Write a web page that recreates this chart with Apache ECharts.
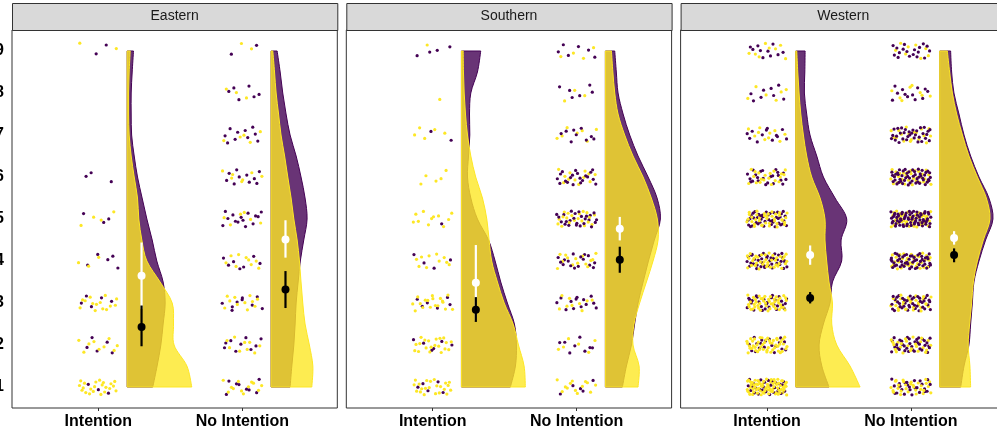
<!DOCTYPE html>
<html>
<head>
<meta charset="utf-8">
<script src="https://cdn.jsdelivr.net/npm/echarts@6/dist/echarts.min.js"></script>
<style>html,body{margin:0;padding:0;background:#fff}#chart{width:997px;height:434px}</style>
</head>
<body>
<div id="chart"></div>
<script>
// ---------------- DATA ----------------
const regions = ['Eastern', 'Southern', 'Western'];
const conditions = ['Intention', 'No Intention'];
const responseLevels = [1, 2, 3, 4, 5, 6, 7, 8, 9];
const densityLevels = [1, 1.5, 2, 2.5, 3, 3.5, 4, 4.5, 5, 5.5, 6, 6.5, 7, 7.5, 8, 8.5, 9];

// number of responses per level (1..9), purple group / yellow group
const eastIntPurpleCounts = [3, 5, 5, 5, 3, 3, 0, 0, 2];
const eastIntYellowCounts = [22, 9, 14, 3, 4, 0, 0, 0, 2];
const eastNoPurpleCounts = [8, 9, 9, 7, 14, 10, 10, 6, 2];
const eastNoYellowCounts = [12, 9, 11, 9, 6, 7, 5, 3, 2];
const southIntPurpleCounts = [5, 6, 6, 4, 1, 0, 2, 0, 4];
const southIntYellowCounts = [22, 20, 18, 10, 11, 5, 5, 1, 1];
const southNoPurpleCounts = [5, 8, 13, 16, 25, 20, 9, 6, 6];
const southNoYellowCounts = [13, 6, 9, 14, 20, 12, 7, 3, 4];
const westIntPurpleCounts = [28, 19, 28, 38, 42, 23, 12, 8, 10];
const westIntYellowCounts = [75, 48, 45, 38, 38, 20, 10, 6, 8];
const westNoPurpleCounts = [25, 35, 40, 50, 65, 50, 32, 12, 18];
const westNoYellowCounts = [30, 25, 30, 32, 42, 32, 18, 8, 8];

// half-violin density widths at densityLevels (x-axis units)
const eastIntPurpleDens = [0.178, 0.208, 0.234, 0.25, 0.264, 0.25, 0.206, 0.174, 0.137, 0.104, 0.072, 0.049, 0.031, 0.028, 0.028, 0.035, 0.044];
const eastIntYellowDens = [0.449, 0.415, 0.326, 0.322, 0.313, 0.229, 0.137, 0.102, 0.081, 0.072, 0.049, 0.028, 0.014, 0.010, 0.010, 0.014, 0.021];
const eastNoPurpleDens = [0.132, 0.144, 0.158, 0.167, 0.174, 0.188, 0.203, 0.227, 0.25, 0.236, 0.208, 0.174, 0.132, 0.104, 0.081, 0.063, 0.042];
const eastNoYellowDens = [0.283, 0.29, 0.266, 0.236, 0.22, 0.208, 0.197, 0.181, 0.158, 0.139, 0.116, 0.094, 0.069, 0.052, 0.035, 0.024, 0.012];
const southIntPurpleDens = [0.34, 0.375, 0.382, 0.368, 0.319, 0.273, 0.234, 0.188, 0.111, 0.065, 0.042, 0.049, 0.058, 0.056, 0.065, 0.111, 0.134];
const southIntYellowDens = [0.444, 0.435, 0.396, 0.359, 0.297, 0.25, 0.21, 0.192, 0.176, 0.146, 0.099, 0.065, 0.042, 0.028, 0.019, 0.014, 0.012];
const southNoPurpleDens = [0.118, 0.146, 0.181, 0.203, 0.227, 0.262, 0.299, 0.34, 0.382, 0.359, 0.297, 0.227, 0.169, 0.123, 0.088, 0.076, 0.065];
const southNoYellowDens = [0.227, 0.234, 0.192, 0.199, 0.238, 0.285, 0.331, 0.366, 0.361, 0.319, 0.262, 0.192, 0.134, 0.088, 0.065, 0.052, 0.042];
const westIntPurpleDens = [0.231, 0.181, 0.162, 0.192, 0.238, 0.255, 0.319, 0.315, 0.354, 0.273, 0.192, 0.146, 0.099, 0.076, 0.06, 0.063, 0.065];
const westIntYellowDens = [0.447, 0.377, 0.285, 0.25, 0.255, 0.231, 0.215, 0.203, 0.203, 0.169, 0.111, 0.076, 0.053, 0.035, 0.023, 0.014, 0.007];
const westNoPurpleDens = [0.146, 0.169, 0.203, 0.215, 0.227, 0.238, 0.273, 0.319, 0.37, 0.342, 0.273, 0.215, 0.169, 0.134, 0.099, 0.083, 0.076];
const westNoYellowDens = [0.215, 0.21, 0.198, 0.208, 0.222, 0.234, 0.262, 0.303, 0.349, 0.324, 0.262, 0.203, 0.158, 0.118, 0.088, 0.069, 0.053];

// mean with interval: [mean, lower, upper]
const eastIntWhite = [3.65, 2.86, 4.44];
const eastIntBlack = [2.43, 1.97, 2.94];
const eastNoWhite = [4.51, 4.08, 4.97];
const eastNoBlack = [3.32, 2.88, 3.76];
const southIntWhite = [3.48, 2.58, 4.38];
const southIntBlack = [2.84, 2.55, 3.14];
const southNoWhite = [4.77, 4.49, 5.05];
const southNoBlack = [4.03, 3.72, 4.34];
const westIntWhite = [4.14, 3.91, 4.37];
const westIntBlack = [3.12, 2.99, 3.26];
const westNoWhite = [4.55, 4.39, 4.71];
const westNoBlack = [4.14, 3.97, 4.30];

// ---------------- BUILD ----------------
const panels = [
  { name: regions[0],
    counts: [[eastIntPurpleCounts, eastIntYellowCounts], [eastNoPurpleCounts, eastNoYellowCounts]],
    dens: [[eastIntPurpleDens, eastIntYellowDens], [eastNoPurpleDens, eastNoYellowDens]],
    summ: [[eastIntWhite, eastIntBlack], [eastNoWhite, eastNoBlack]] },
  { name: regions[1],
    counts: [[southIntPurpleCounts, southIntYellowCounts], [southNoPurpleCounts, southNoYellowCounts]],
    dens: [[southIntPurpleDens, southIntYellowDens], [southNoPurpleDens, southNoYellowDens]],
    summ: [[southIntWhite, southIntBlack], [southNoWhite, southNoBlack]] },
  { name: regions[2],
    counts: [[westIntPurpleCounts, westIntYellowCounts], [westNoPurpleCounts, westNoYellowCounts]],
    dens: [[westIntPurpleDens, westIntYellowDens], [westNoPurpleDens, westNoYellowDens]],
    summ: [[westIntWhite, westIntBlack], [westNoWhite, westNoBlack]] }
];

const PURPLE = '#440154', YELLOW = '#FDE725';
const FONT = '"Liberation Sans", Arial, Helvetica, sans-serif';
const gridLefts = [12, 346.3, 680.6];
const gridW = 325.3, gridTop = 30, gridH = 378;
const X_MIN = 0.4, X_MAX = 2.66;

// low-discrepancy (Halton 2/3) jitter offsets, for visual spread only
function halton(i, b) { let f = 1, r = 0; while (i > 0) { f /= b; r += f * (i % b); i = Math.floor(i / b); } return r; }
function jitter(n) { return [halton(n, 2) * 2 - 1, halton(n, 3) * 2 - 1]; }

function violinPath(api, cat, dens) {
  const base = cat + 0.2;
  const pts = densityLevels.map((lv, i) => api.coord([base + dens[i], lv]));
  const b0 = api.coord([base, densityLevels[0]]);
  const b1 = api.coord([base, densityLevels[densityLevels.length - 1]]);
  let d = 'M' + b0[0] + ',' + b0[1] + ' L' + pts[0][0] + ',' + pts[0][1];
  for (let i = 0; i < pts.length - 1; i++) {
    const p0 = pts[Math.max(i - 1, 0)], p1 = pts[i], p2 = pts[i + 1], p3 = pts[Math.min(i + 2, pts.length - 1)];
    const c1 = [p1[0] + (p2[0] - p0[0]) / 6, p1[1] + (p2[1] - p0[1]) / 6];
    const c2 = [p2[0] - (p3[0] - p1[0]) / 6, p2[1] - (p3[1] - p1[1]) / 6];
    d += ' C' + c1[0] + ',' + c1[1] + ' ' + c2[0] + ',' + c2[1] + ' ' + p2[0] + ',' + p2[1];
  }
  d += ' L' + b1[0] + ',' + b1[1] + ' Z';
  return d;
}

const grid = [], xAxis = [], yAxis = [], series = [], graphic = [];

panels.forEach((p, gi) => {
  grid.push({ left: gridLefts[gi], top: gridTop, width: gridW, height: gridH,
    show: true, borderColor: '#333333', borderWidth: 1, backgroundColor: '#ffffff',
    containLabel: false, outerBoundsMode: 'none' });
  xAxis.push({ type: 'value', gridIndex: gi, min: X_MIN, max: X_MAX,
    axisLine: { show: false }, splitLine: { show: false },
    axisTick: { show: true, customValues: [1, 2], length: 3, lineStyle: { color: '#333333', width: 1 } },
    axisLabel: { show: true, customValues: [1, 2], margin: 6,
      formatter: v => (Math.abs(v - 1) < 1e-6 ? conditions[0] : (Math.abs(v - 2) < 1e-6 ? conditions[1] : '')),
      color: '#000', fontWeight: 'bold', fontSize: 16, fontFamily: FONT } });
  yAxis.push({ type: 'value', gridIndex: gi, min: 0.5, max: 9.5, interval: 0.5,
    axisLine: { show: false }, splitLine: { show: false }, axisTick: { show: false },
    axisLabel: { show: gi === 0, margin: 8, showMinLabel: true, showMaxLabel: true,
      formatter: v => (Math.abs(v - Math.round(v)) < 1e-6 && responseLevels.includes(Math.round(v)) ? String(Math.round(v)) : ''),
      color: '#000', fontWeight: 'bold', fontSize: 16, fontFamily: FONT } });

  // strip header
  graphic.push({ type: 'rect', left: gridLefts[gi], top: 3, z: 10,
    shape: { x: 0, y: 0, width: gridW, height: 27 },
    style: { fill: '#D9D9D9', stroke: '#333333', lineWidth: 1 } });
  graphic.push({ type: 'text', x: gridLefts[gi] + gridW / 2, y: 16.5, z: 11,
    style: { text: p.name, fill: '#1A1A1A', font: '14px ' + FONT, textAlign: 'center', textVerticalAlign: 'middle' } });

  // jittered raw points
  const pts = [];
  [0, 1].forEach(ci => {
    const cat = ci + 1;
    const purple = [], yellow = [];
    let n = 1 + ci * 211 + gi * 577;
    responseLevels.forEach((lv, li) => {
      for (let k = 0; k < p.counts[ci][0][li]; k++) { const j = jitter(n++); purple.push([cat + j[0] * 0.14, lv + j[1] * 0.19]); }
      for (let k = 0; k < p.counts[ci][1][li]; k++) { const j = jitter(n++); yellow.push([cat + j[0] * 0.14, lv + j[1] * 0.19]); }
    });
    const m = Math.max(purple.length, yellow.length);
    for (let i = 0; i < m; i++) {
      if (i < yellow.length) pts.push({ value: yellow[i], itemStyle: { color: YELLOW } });
      if (i < purple.length) pts.push({ value: purple[i], itemStyle: { color: PURPLE } });
    }
  });
  series.push({ type: 'scatter', xAxisIndex: gi, yAxisIndex: gi, data: pts, symbolSize: 3.2,
    itemStyle: { opacity: 1 }, silent: true, animation: false, z: 2 });

  // half violins: purple first, yellow on top
  [0, 1].forEach(grp => {
    series.push({ type: 'custom', xAxisIndex: gi, yAxisIndex: gi, animation: false, silent: true, z: 3 + grp,
      data: [[1, 5], [2, 5]],
      renderItem: (params, api) => {
        const cat = api.value(0);
        const dens = p.dens[cat - 1][grp];
        return { type: 'path', shape: { pathData: violinPath(api, cat, dens) },
          style: grp === 0
            ? { fill: 'rgba(68,1,84,0.8)', stroke: PURPLE, lineWidth: 1 }
            : { fill: 'rgba(253,231,37,0.8)', stroke: YELLOW, lineWidth: 1 } };
      } });
  });

  // mean + interval point ranges
  const prData = [];
  [0, 1].forEach(ci => {
    prData.push({ value: [ci + 1.3, p.summ[ci][0][0], p.summ[ci][0][1], p.summ[ci][0][2]], col: '#FFFFFF' });
  });
  [0, 1].forEach(ci => {
    prData.push({ value: [ci + 1.3, p.summ[ci][1][0], p.summ[ci][1][1], p.summ[ci][1][2]], col: '#000000' });
  });
  series.push({ type: 'custom', xAxisIndex: gi, yAxisIndex: gi, animation: false, silent: true, z: 6,
    data: prData,
    renderItem: (params, api) => {
      const col = prData[params.dataIndex].col;
      const c = api.coord([api.value(0), api.value(1)]);
      const lo = api.coord([api.value(0), api.value(2)]);
      const hi = api.coord([api.value(0), api.value(3)]);
      return { type: 'group', children: [
        { type: 'line', shape: { x1: lo[0], y1: lo[1], x2: hi[0], y2: hi[1] }, style: { stroke: col, lineWidth: 2.2 } },
        { type: 'circle', shape: { cx: c[0], cy: c[1], r: 4 }, style: { fill: col } }
      ] };
    } });
});

const chart = echarts.init(document.getElementById('chart'), null, { renderer: 'canvas' });
chart.setOption({ animation: false, backgroundColor: '#ffffff', grid, xAxis, yAxis, series, graphic });
</script>
</body>
</html>
